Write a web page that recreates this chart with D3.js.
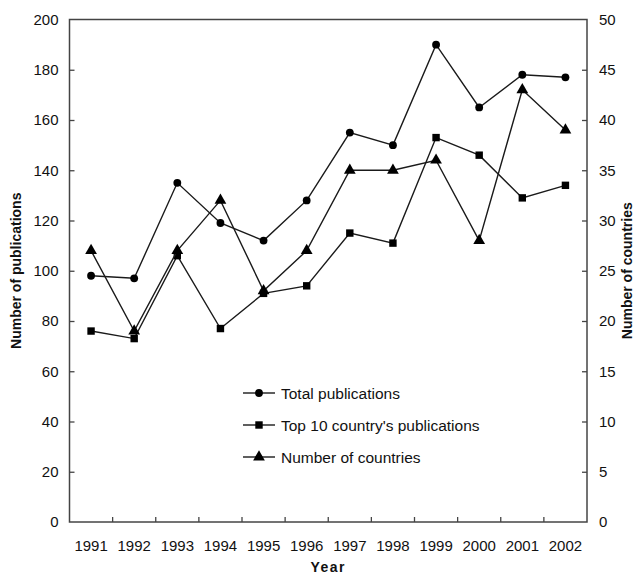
<!DOCTYPE html>
<html><head><meta charset="utf-8">
<script src="https://cdn.jsdelivr.net/npm/d3@7"></script>
<style>body{margin:0;background:#fff}svg{display:block}text{font-family:"Liberation Sans",Arial,sans-serif;fill:#111}</style>
</head><body><svg id="c" width="640" height="579"></svg>
<script>
const years = ["1991","1992","1993","1994","1995","1996","1997","1998","1999","2000","2001","2002"];
const totalPubs = [98,97,135,119,112,128,155,150,190,165,178,177];
const top10Pubs = [76,73,106,77,91,94,115,111,153,146,129,134];
const numCountries = [27,19,27,32,23,27,35,35,36,28,43,39];
const leftTicks = [0,20,40,60,80,100,120,140,160,180,200];
const rightTicks = [0,5,10,15,20,25,30,35,40,45,50];
const legendLabels = ["Total publications","Top 10 country's publications","Number of countries"];

const svg = d3.select("#c");
const L = 69.5, R = 587, T = 19.5, B = 522;
const x = d3.scaleBand().domain(years).range([L, R]);
const yL = d3.scaleLinear().domain([0,200]).range([B, T]);
const yR = d3.scaleLinear().domain([0,50]).range([B, T]);
const cx = d => x(d) + x.bandwidth()/2;

const axisColor = "#444";
svg.append("rect").attr("x",L).attr("y",T).attr("width",R-L).attr("height",B-T)
  .attr("fill","none").attr("stroke",axisColor).attr("stroke-width",1.5);

const gl = svg.append("g").attr("transform",`translate(${L},0)`)
  .call(d3.axisLeft(yL).tickValues(leftTicks).tickSizeInner(-5).tickSizeOuter(0).tickPadding(11));
const gr = svg.append("g").attr("transform",`translate(${R},0)`)
  .call(d3.axisRight(yR).tickValues(rightTicks).tickSizeInner(-5).tickSizeOuter(0).tickPadding(12));
const boundaries = years.slice(1);
const gb = svg.append("g").attr("transform",`translate(0,${B})`)
  .call(d3.axisBottom(x).tickSize(0).tickPadding(18));
gb.selectAll(".bt").data(boundaries).enter().append("line")
  .attr("x1",d=>x(d)).attr("x2",d=>x(d)).attr("y1",0).attr("y2",-5)
  .attr("stroke",axisColor).attr("stroke-width",1.3);
[gl,gr,gb].forEach(g=>{
  g.select(".domain").remove();
  g.selectAll(".tick line").attr("stroke",axisColor).attr("stroke-width",1.3);
  g.selectAll(".tick text").style("font-size","15px").style("font-family","'Liberation Sans',Arial,sans-serif").attr("fill","#111");
});
gl.selectAll(".tick line").filter(d=>d===0||d===200).remove();
gr.selectAll(".tick line").filter(d=>d===0||d===50).remove();

svg.append("text").attr("transform",`translate(21,${(T+B)/2}) rotate(-90)`)
  .attr("text-anchor","middle").style("font-size","14px").style("font-weight","bold").text("Number of publications");
svg.append("text").attr("transform",`translate(632,${(T+B)/2}) rotate(-90)`)
  .attr("text-anchor","middle").style("font-size","14px").style("font-weight","bold").text("Number of countries");
svg.append("text").attr("x",(L+R)/2).attr("y",572).attr("text-anchor","middle")
  .style("font-size","14px").style("font-weight","bold").style("letter-spacing","1.5px").text("Year");

const lineColor = "#1a1a1a";
const series = [
  {vals: totalPubs, y: yL, shape: d3.symbolCircle, size: 48},
  {vals: top10Pubs, y: yL, shape: d3.symbolSquare, size: 55},
  {vals: numCountries, y: yR, shape: d3.symbolTriangle, size: 60}
];
series.forEach(s=>{
  const line = d3.line().x((d,i)=>cx(years[i])).y(d=>s.y(d));
  svg.append("path").attr("d",line(s.vals)).attr("fill","none")
    .attr("stroke",lineColor).attr("stroke-width",1.4);
  svg.append("g").selectAll("path").data(s.vals).enter().append("path")
    .attr("d",d3.symbol().type(s.shape).size(s.size))
    .attr("transform",(d,i)=>`translate(${cx(years[i])},${s.y(d)})`)
    .attr("fill","#000");
});

const legY = [393,425,457];
legendLabels.forEach((lab,i)=>{
  const g = svg.append("g").attr("transform",`translate(0,${legY[i]})`);
  g.append("line").attr("x1",243).attr("x2",275).attr("y1",0).attr("y2",0)
    .attr("stroke",lineColor).attr("stroke-width",1.4);
  g.append("path").attr("d",d3.symbol().type(series[i].shape).size(series[i].size))
    .attr("transform","translate(259,0)").attr("fill","#000");
  g.append("text").attr("x",281).attr("y",5.5).style("font-size","15.5px").text(lab);
});
</script></body></html>
